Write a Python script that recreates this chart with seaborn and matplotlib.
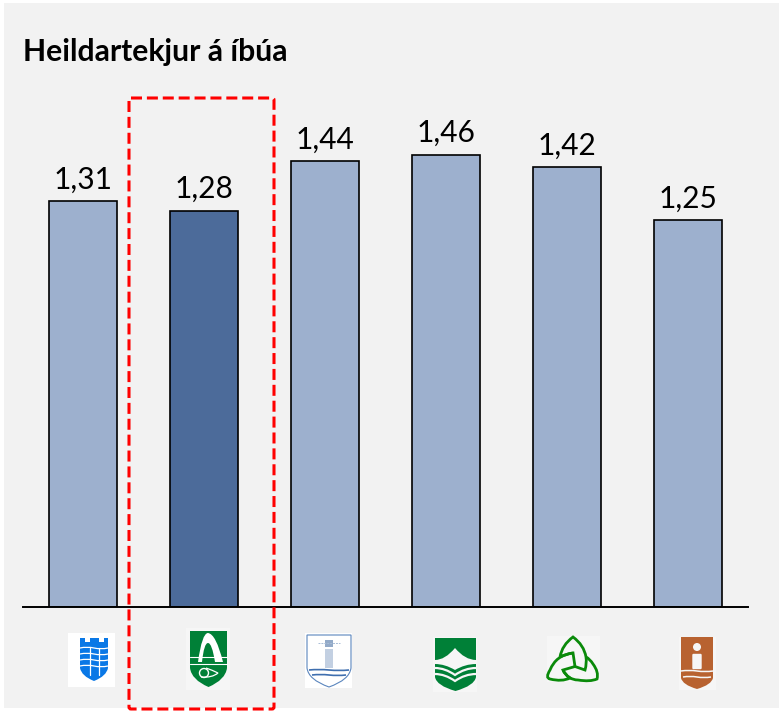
#!/usr/bin/env python3
"""Heildartekjur a ibua: bar chart with municipality crests under the bars."""

import matplotlib.pyplot as plt
import pandas as pd
import seaborn as sns
from matplotlib.patches import Circle, FancyBboxPatch, PathPatch, Rectangle
from matplotlib.path import Path

TITLE = "Heildartekjur á íbúa"
MUNICIPALITIES = ["A", "B", "C", "D", "E", "F"]
INCOME = [1.31, 1.28, 1.44, 1.46, 1.42, 1.25]
HIGHLIGHT = ["no", "yes", "no", "no", "no", "no"]

PANEL = "#F2F2F2"
LIGHT_BAR = "#9DB0CE"
DARK_BAR = "#4C6B9A"
RED = "#FF0000"
PALE = "#F6F6F6"
W, H = 782, 711


def curve(ax, start, segments, color, lw=1.0, fill=None, close=False):
    # each segment is (control, end) for a quadratic, or (end,) for a straight piece
    verts, codes = [start], [Path.MOVETO]
    for seg in segments:
        if len(seg) == 2:
            verts += list(seg)
            codes += [Path.CURVE3, Path.CURVE3]
        else:
            verts += list(seg)
            codes += [Path.LINETO]
    if close:
        verts.append(start)
        codes.append(Path.CLOSEPOLY)
    ax.add_patch(PathPatch(Path(verts, codes), facecolor=fill or "none",
                           edgecolor=color if lw else "none", linewidth=lw))


def shield(ax, left, right, top, shoulder, bottom, fill, edge=None, lw=0):
    mid = (left + right) / 2
    ctrl_y = shoulder + (bottom - shoulder) * 0.62
    curve(ax, (left, top),
          [((right, top),), ((right, shoulder),),
           ((right - 1.5, ctrl_y), (mid, bottom)),
           ((left + 1.5, ctrl_y), (left, shoulder))],
          edge or fill, lw, fill=fill, close=True)


def wave(ax, left, right, y, amp, color, lw):
    step = (right - left) / 4
    curve(ax, (left, y),
          [((left + step, y - amp), (left + 2 * step, y)),
           ((left + 3 * step, y + amp), (right, y))], color, lw)


def draw_crest_blue(ax):
    ax.add_patch(Rectangle((68, 633), 47, 54, facecolor="white", linewidth=0))
    shield(ax, 80, 108, 638, 668, 681, "#0A78E6")
    ax.add_patch(Rectangle((84.5, 638), 5, 4, facecolor="white", linewidth=0))
    ax.add_patch(Rectangle((98.5, 638), 5, 4, facecolor="white", linewidth=0))
    for x in (89.5, 98.5):
        ax.plot([x, x], [648, 675], color="white", lw=0.9)
    for y in (648, 654, 660, 666):
        wave(ax, 80, 108, y, 1.6, "white", 0.9)


def draw_crest_green_arch(ax):
    ax.add_patch(Rectangle((186, 628), 44, 62, facecolor=PALE, linewidth=0))
    shield(ax, 190, 227, 631, 668, 687, "#008037")
    curve(ax, (198, 662),
          [((202, 633), (208, 633)), ((216, 634), (223, 662)), ((215, 662),),
           ((212, 643), (208, 643)), ((204, 643), (202, 662))],
          "white", 0, fill="white", close=True)
    ax.plot([190, 227], [657, 657], color="white", lw=0.8)
    ax.plot([190, 227], [664, 664], color="white", lw=0.8)
    ax.add_patch(Circle((204, 673), 4.5, facecolor="none", edgecolor="white", linewidth=1.0))
    curve(ax, (201, 677), [((212, 678), (218, 673)), ((212, 670), (206, 668))], "white", 0.9)


def draw_crest_lighthouse(ax):
    ax.add_patch(Rectangle((305, 633), 47, 55, facecolor="white", linewidth=0))
    shield(ax, 307, 351, 635, 668, 687, "white", edge="#5B86BE", lw=0.8)
    ax.add_patch(Rectangle((325, 649), 8, 19, facecolor="#C3D0E2", linewidth=0))
    ax.add_patch(Rectangle((325, 640), 8, 7, facecolor="#93AAC8", linewidth=0))
    ax.plot([318, 340], [643, 643], color="#A9BDD6", lw=0.7, linestyle=(0, (2, 1)))
    for y, left, right in ((670, 309, 349), (675, 312, 346)):
        wave(ax, left, right, y, 1.0, "#3F6FAF", 1.2)


def draw_crest_mountain(ax):
    ax.add_patch(Rectangle((433, 637), 44, 55, facecolor=PALE, linewidth=0))
    shield(ax, 435, 476, 638, 677, 691, "#008037")
    curve(ax, (435, 660),
          [((445, 660), (455, 648)), ((465, 660), (476, 660)), ((476, 664),),
           ((465, 664), (455, 670)), ((445, 664), (435, 664))],
          PALE, 0, fill=PALE, close=True)
    for side_y, mid_y in ((668, 675), (674, 681)):
        curve(ax, (435, side_y),
              [((445, side_y), (455, mid_y)), ((465, side_y), (476, side_y))], PALE, 1.6)


def draw_crest_triquetra(ax):
    ax.add_patch(Rectangle((547, 636), 53, 46, facecolor=PALE, linewidth=0))
    green = "#0A8A0A"
    lw = 2.0
    curve(ax, (560, 657),
          [((562, 645), (573, 637)), ((584, 645), (586, 657)), ((587, 663), (585, 670)),
           ((575, 666.5),), ((573, 653),), ((566, 654), (560, 657))], green, lw)
    curve(ax, (573, 653),
          [((556, 655), (550, 670)), ((545, 678), (550, 679)), ((562, 682), (570, 678)),
           ((565, 675), (563, 670)), ((575, 666.5),)], green, lw)
    curve(ax, (563, 670),
          [((568, 680), (578, 680)), ((590, 682), (597, 679)), ((599, 672), (593, 664)),
           ((590, 659), (586, 657))], green, lw)


def draw_crest_brown(ax):
    ax.add_patch(Rectangle((679, 637), 37, 53, facecolor=PALE, linewidth=0))
    shield(ax, 681, 713, 637, 678, 689, "#B86230")
    ax.add_patch(Circle((697, 647), 4.0, facecolor=PALE, linewidth=0))
    ax.add_patch(FancyBboxPatch((693.5, 655), 7, 13, boxstyle="round,pad=1.2",
                                facecolor=PALE, linewidth=0))
    wave(ax, 681, 713, 671, 1.2, PALE, 1.1)
    wave(ax, 683, 711, 677, 1.2, PALE, 1.1)


def main() -> None:
    sns.set_theme(style="white")
    plt.rcParams["font.family"] = ["Lato", "DejaVu Sans"]

    fig = plt.figure(figsize=(W / 100, H / 100), dpi=100, facecolor="white")

    back = fig.add_axes([0, 0, 1, 1], zorder=0)
    back.set_xlim(0, W)
    back.set_ylim(H, 0)
    back.axis("off")
    back.add_patch(Rectangle((4, 3), 775, 705, facecolor=PANEL, linewidth=0))

    ax = fig.add_axes([23 / W, (H - 607) / H, 725 / W, 510 / H], zorder=1)
    ax.patch.set_alpha(0)
    df = pd.DataFrame({"kommune": MUNICIPALITIES, "income": INCOME, "highlight": HIGHLIGHT})
    sns.barplot(
        data=df, x="kommune", y="income", hue="highlight",
        palette={"no": LIGHT_BAR, "yes": DARK_BAR},
        dodge=False, width=0.56, saturation=1, edgecolor="black", linewidth=1.2,
        legend=False, ax=ax,
    )
    ax.set_xlim(-0.496, 5.496)
    ax.set_ylim(0, 1.647)
    ax.set_xlabel("")
    ax.set_ylabel("")
    ax.set_xticks(range(len(MUNICIPALITIES)))
    ax.set_xticklabels([])
    ax.set_yticks([])
    ax.tick_params(length=0)
    sns.despine(ax=ax, left=True)
    ax.spines["bottom"].set_color("black")
    ax.spines["bottom"].set_linewidth(1.4)

    for i, value in enumerate(INCOME):
        ax.annotate(f"{value:.2f}".replace(".", ","), (i, value), xytext=(0, 5.5),
                    textcoords="offset points", ha="center", va="bottom",
                    fontsize=21.5, color="black")

    front = fig.add_axes([0, 0, 1, 1], zorder=2)
    front.set_xlim(0, W)
    front.set_ylim(H, 0)
    front.axis("off")
    front.text(23, 52.5, TITLE, fontsize=21.7, fontweight="bold", color="black",
               ha="left", va="center")
    front.add_patch(FancyBboxPatch((129, 98), 145, 611, boxstyle="round,pad=0,rounding_size=2",
                                   facecolor="none", edgecolor=RED, linewidth=2.2,
                                   linestyle=(0, (3.6, 1.6))))

    draw_crest_blue(front)
    draw_crest_green_arch(front)
    draw_crest_lighthouse(front)
    draw_crest_mountain(front)
    draw_crest_triquetra(front)
    draw_crest_brown(front)

    fig.savefig("out.png", dpi=100)
    plt.close(fig)


if __name__ == "__main__":
    main()
